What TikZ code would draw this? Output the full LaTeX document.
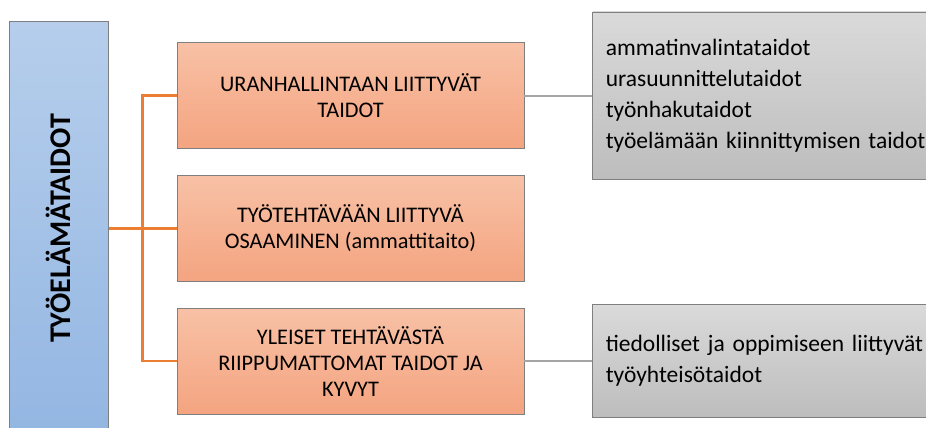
\documentclass[tikz,border=0pt]{standalone}
\usepackage{fontspec}
\setmainfont{Carlito}
\usetikzlibrary{positioning,calc}
\definecolor{bluetop}{HTML}{B6CEEC}
\definecolor{bluebottom}{HTML}{93B6E2}
\definecolor{orangetop}{HTML}{F8C1A6}
\definecolor{orangebottom}{HTML}{F4A480}
\definecolor{graytop}{HTML}{DADADA}
\definecolor{graybottom}{HTML}{BDBDBD}
\definecolor{boxedge}{HTML}{7F7F7F}
\definecolor{orangeline}{HTML}{ED7D31}
\definecolor{grayline}{HTML}{A5A5A5}

\begin{document}
\begin{tikzpicture}[
    x=1pt, y=-1pt,
    node distance=26pt,
    mainbox/.style={
        draw=boxedge,
        thick,
        top color=bluetop,
        bottom color=bluebottom,
        minimum width=99pt,
        minimum height=414pt,
        inner sep=0pt
    },
    areabox/.style={
        draw=boxedge,
        thick,
        top color=orangetop,
        bottom color=orangebottom,
        minimum width=347pt,
        minimum height=106pt,
        align=center,
        font=\fontsize{22.3}{26}\selectfont
    },
    listbox/.style={
        draw=boxedge,
        thick,
        top color=graytop,
        bottom color=graybottom,
        text width=345pt,
        inner xsep=13pt,
        align=left,
        font=\fontsize{23.5}{31}\selectfont
    },
    branch/.style={orangeline, line width=2.5pt},
    listline/.style={grayline, line width=2pt}
]
\clip (0,0) rectangle (926,428);
\useasboundingbox (0,0) rectangle (926,428);

% osaamisalueet
\node[areabox] (taito1) at (350.5,95.5) {URANHALLINTAAN LIITTYVÄT\\TAIDOT};
\node[areabox, below=of taito1] (taito2) {TYÖTEHTÄVÄÄN LIITTYVÄ\\OSAAMINEN (ammattitaito)};
\node[areabox, below=of taito2] (taito3) {YLEISET TEHTÄVÄSTÄ\\RIIPPUMATTOMAT TAIDOT JA\\KYVYT};

% pääkäsite
\node[mainbox, left=68pt of taito2] (tyoel) {};
\node[rotate=90, font=\fontsize{30}{32}\selectfont\bfseries] (tyoelteksti) at (tyoel) {TYÖELÄMÄTAIDOT};

% listat
\node[listbox, minimum height=167pt, right=68pt of taito1] (lista1) {ammatinvalintataidot\\urasuunnittelutaidot\\työnhakutaidot\\työelämään kiinnittymisen taidot};
\node[listbox, minimum height=113pt, right=68pt of taito3] (lista2) {tiedolliset ja oppimiseen liittyvät\\työyhteisötaidot};

% yhteydet
\coordinate (jako) at ($(tyoel.east)!0.5!(taito2.west)$);
\draw[branch] (tyoel.east |- taito2.west) -- (taito2.west);
\draw[branch] (taito1.west) -| (jako) |- (taito3.west);
\draw[listline] (taito1.east) -- (lista1.west);
\draw[listline] (taito3.east) -- (lista2.west);

\end{tikzpicture}
\end{document}
